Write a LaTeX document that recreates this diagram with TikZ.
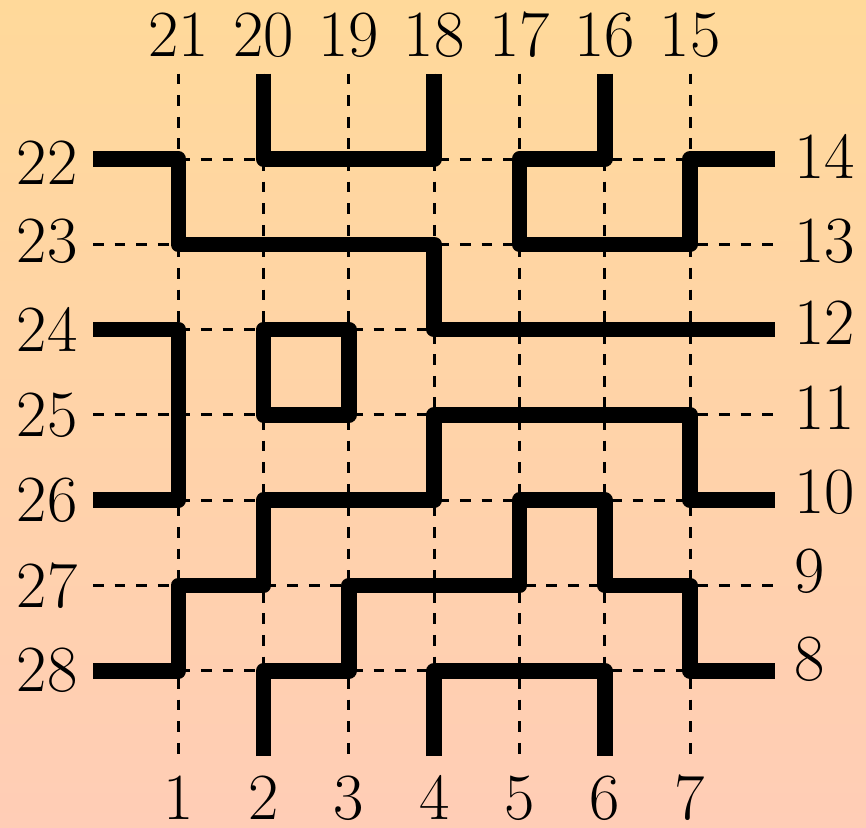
\documentclass[tikz,border=0pt]{standalone}
\definecolor{topc}{RGB}{255,217,154}
\definecolor{botc}{RGB}{255,205,182}
\begin{document}
\begin{tikzpicture}[
  wire/.style={line width=5.2pt, line join=round, line cap=butt},
  gridline/.style={line width=1pt, dash pattern=on 3.6pt off 3.6pt},
  lab/.style={inner sep=0pt, font=\fontsize{22}{26}\selectfont}
]
\fill[top color=topc, bottom color=botc] (-1.0903,0.864) rectangle (9.0621,-8.831);
\useasboundingbox (-1.0903,0.864) rectangle (9.0621,-8.831);
\foreach \c in {0,...,8}{\foreach \k in {0,...,8}{\coordinate (g-\c-\k) at (\c,-\k);}}
% dashed grid
\foreach \c in {1,...,7}{\draw[gridline] (g-\c-0) -- (g-\c-8);}
\foreach \k in {1,...,7}{\draw[gridline] (g-0-\k) -- (g-8-\k);}
% labels
\foreach \c [evaluate=\c as \t using int(22-\c)] in {1,...,7}{
  \node[lab, anchor=base] (t\c) at (\c,0.207) {\t};
  \node[lab, anchor=base] (b\c) at (\c,-8.74) {\c};
}
\node[lab, anchor=east] (l1) at (-0.176,-1.047) {22};
\node[lab, anchor=east] (l2) at (-0.176,-1.961) {23};
\node[lab, anchor=east] (l3) at (-0.176,-3.0) {24};
\node[lab, anchor=east] (l4) at (-0.176,-4.0) {25};
\node[lab, anchor=east] (l5) at (-0.176,-5.0) {26};
\node[lab, anchor=east] (l6) at (-0.176,-6.006) {27};
\node[lab, anchor=east] (l7) at (-0.176,-6.991) {28};
\node[lab, anchor=west] (r1) at (8.218,-0.965) {14};
\node[lab, anchor=west] (r2) at (8.218,-1.961) {13};
\node[lab, anchor=west] (r3) at (8.218,-2.917) {12};
\node[lab, anchor=west] (r4) at (8.218,-3.913) {11};
\node[lab, anchor=west] (r5) at (8.218,-4.910) {10};
\node[lab, anchor=west] (r6) at (8.218,-5.830) {9};
\node[lab, anchor=west] (r7) at (8.218,-6.862) {8};
% thick wires
\draw[wire] (g-2-0) -- (g-2-1) -- (g-4-1) -- (g-4-0);
\draw[wire] (g-6-0) -- (g-6-1) -- (g-5-1) -- (g-5-2) -- (g-7-2) -- (g-7-1) -- (g-8-1);
\draw[wire] (g-0-1) -- (g-1-1) -- (g-1-2) -- (g-4-2) -- (g-4-3) -- (g-8-3);
\draw[wire] (g-0-3) -- (g-1-3) -- (g-1-5) -- (g-0-5);
\draw[wire] (g-2-3) -- (g-3-3) -- (g-3-4) -- (g-2-4) -- cycle;
\draw[wire] (g-0-7) -- (g-1-7) -- (g-1-6) -- (g-2-6) -- (g-2-5) -- (g-4-5) -- (g-4-4) -- (g-7-4) -- (g-7-5) -- (g-8-5);
\draw[wire] (g-2-8) -- (g-2-7) -- (g-3-7) -- (g-3-6) -- (g-5-6) -- (g-5-5) -- (g-6-5) -- (g-6-6) -- (g-7-6) -- (g-7-7) -- (g-8-7);
\draw[wire] (g-4-8) -- (g-4-7) -- (g-6-7) -- (g-6-8);
\end{tikzpicture}
\end{document}
